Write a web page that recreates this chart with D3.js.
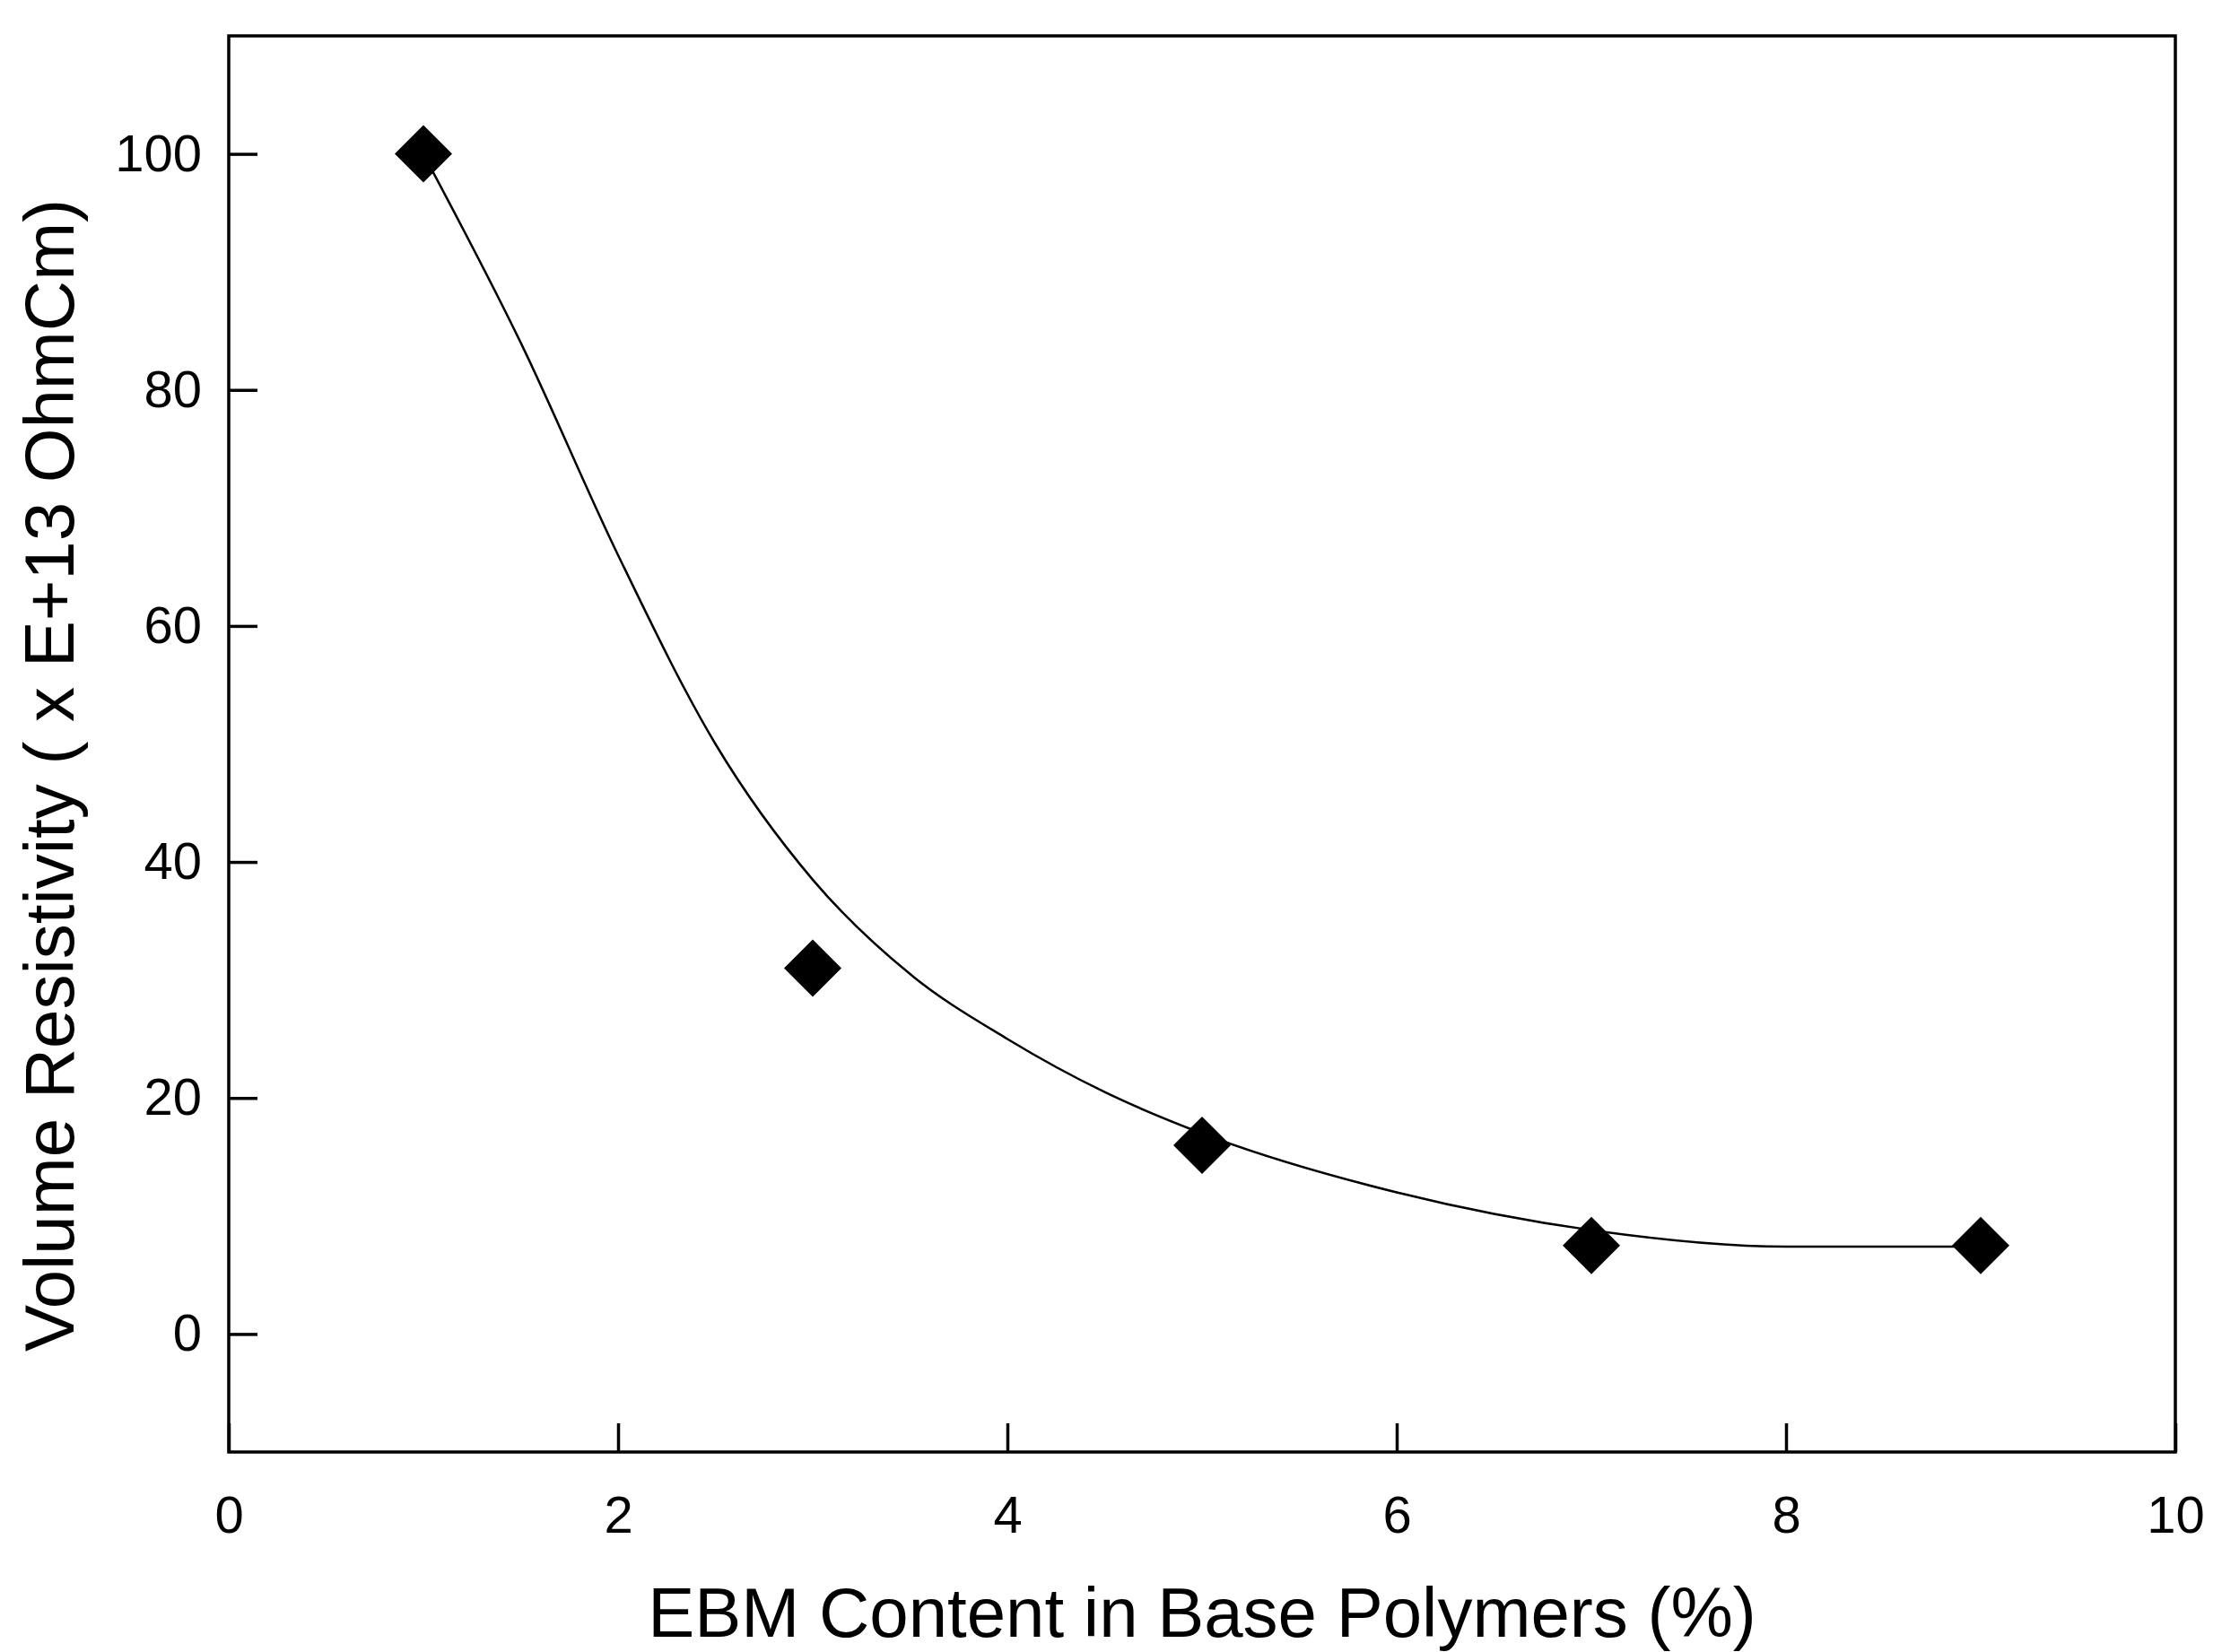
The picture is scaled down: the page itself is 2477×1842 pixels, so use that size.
<!DOCTYPE html><html><head><script src="https://cdn.jsdelivr.net/npm/d3@7"></script>
<style>body{margin:0;background:#fff}</style></head><body><svg id="c" width="2477" height="1842"></svg>
<script>
const xs=[1,3,5,7,9];
const ys=[100,31,16,7.5,7.5];
const fitX=[1,1.5,2,2.5,3,3.5,4,4.5,5,6,7,8,9];
const fitY=[100,84,66,50,38.5,30.5,25,20.5,17,12,8.8,7.4,7.4];
const xTicks=[0,2,4,6,8,10];
const yTicks=[0,20,40,60,80,100];
const svg=d3.select("#c");
const L=255,R=2425,T=40,B=1619;
const x=d3.scaleLinear().domain([0,10]).range([L,R]);
const y=d3.scaleLinear().domain([-10,110]).range([B,T]);
const font="Liberation Sans, Arial, sans-serif";
const nfont="Liberation Sans Narrow, Liberation Sans, Arial, sans-serif";
svg.append("rect").attr("x",L).attr("y",T).attr("width",R-L).attr("height",B-T).attr("fill","none").attr("stroke","#000").attr("stroke-width",3.5);
const gx=svg.append("g").attr("transform",`translate(0,${B})`).call(d3.axisTop(x).tickValues(xTicks).tickSize(32).tickFormat(d3.format("d")));
gx.select(".domain").remove();
gx.selectAll("line").attr("stroke-width",3.5);
gx.selectAll("text").attr("y",90).attr("font-size",58).attr("font-family",nfont).attr("fill","#000");
const gy=svg.append("g").attr("transform",`translate(${L},0)`).call(d3.axisRight(y).tickValues(yTicks).tickSize(32).tickFormat(d3.format("d")));
gy.select(".domain").remove();
gy.selectAll("line").attr("stroke-width",3.5);
gy.selectAll("text").attr("x",-30).attr("text-anchor","end").attr("font-size",58).attr("font-family",nfont).attr("fill","#000");
const line=d3.line().x((d,i)=>x(fitX[i])).y(d=>y(d)).curve(d3.curveMonotoneX);
svg.append("path").attr("d",line(fitY)).attr("fill","none").attr("stroke","#000").attr("stroke-width",2.5);
svg.selectAll(".pt").data(xs).enter().append("path").attr("d","M0,-32L32,0L0,32L-32,0Z")
 .attr("transform",(d,i)=>`translate(${x(d)},${y(ys[i])})`).attr("fill","#000");
svg.append("text").attr("x",(L+R)/2).attr("y",1825).attr("text-anchor","middle").attr("font-size",78).attr("font-family",font).text("EBM Content in Base Polymers (%)");
svg.append("text").attr("transform",`translate(82,${(T+B)/2+35}) rotate(-90)`).attr("text-anchor","middle").attr("font-size",78).attr("font-family",font).text("Volume Resistivity ( x E+13 OhmCm)");
</script></body></html>
